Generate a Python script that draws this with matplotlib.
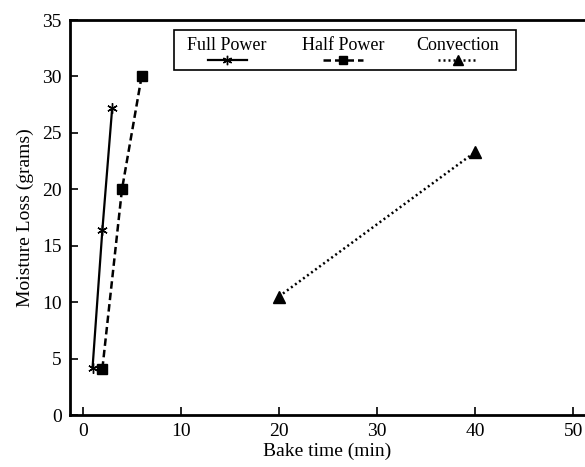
import matplotlib.pyplot as plt

# data
full_time = [1, 2, 3]
full_loss = [4.2, 16.4, 27.2]

half_time = [2, 4, 6]
half_loss = [4.1, 20.0, 30.0]

conv_time = [20, 40]
conv_loss = [10.5, 23.3]

labels = ['Full Power', 'Half Power', 'Convection']

plt.rcParams['font.family'] = ['Liberation Serif', 'DejaVu Serif']

fig = plt.figure(figsize=(5.85, 4.67), dpi=100)
ax = fig.add_axes([70 / 585, 52 / 467, 515 / 585, 395 / 467])

star = (6, 2, 0)
styles = [
    dict(color='black', linestyle='-', linewidth=1.6, marker=star, markersize=7.5, markeredgewidth=1.0),
    dict(color='black', linestyle=(0, (3.0, 1.6)), linewidth=1.8, marker='s', markersize=6.5),
    dict(color='black', linestyle=(0, (0.8, 1.2)), linewidth=1.8, marker='^', markersize=8),
]

ax.plot(full_time, full_loss, **styles[0])
ax.plot(half_time, half_loss, **styles[1])
ax.plot(conv_time, conv_loss, **styles[2])

ax.set_xlim(-1.3, 51.2)
ax.set_ylim(0, 35)
ax.set_xticks(range(0, 51, 10))
ax.set_yticks(range(0, 36, 5))
ax.tick_params(direction='in', length=6, width=1.2, labelsize=14, pad=6)
ax.spines['right'].set_visible(False)
for s in ['left', 'bottom', 'top']:
    ax.spines[s].set_linewidth(2)
ax.set_xlabel('Bake time (min)', fontsize=14, labelpad=2)
ax.set_ylabel('Moisture Loss (grams)', fontsize=14, labelpad=6)

# legend drawn by hand: label above its line sample
box = plt.Rectangle((0.202, 0.873), 0.664, 0.102, transform=ax.transAxes,
                    facecolor='white', edgecolor='black', linewidth=1.2, zorder=5)
ax.add_patch(box)
centers = [0.305, 0.530, 0.753]
for cx, lab, st in zip(centers, labels, styles):
    ax.text(cx, 0.935, lab, transform=ax.transAxes, ha='center', va='center',
            fontsize=13, zorder=6)
    ax.plot([cx - 0.038, cx + 0.038], [0.898, 0.898], transform=ax.transAxes,
            clip_on=False, zorder=6, **{k: v for k, v in st.items() if k != 'marker'},
            )
    ax.plot([cx], [0.898], transform=ax.transAxes, clip_on=False, zorder=7,
            color='black', linestyle='none', marker=st['marker'],
            markersize=st['markersize'] * 0.9)

fig.savefig('out.png', dpi=100)
